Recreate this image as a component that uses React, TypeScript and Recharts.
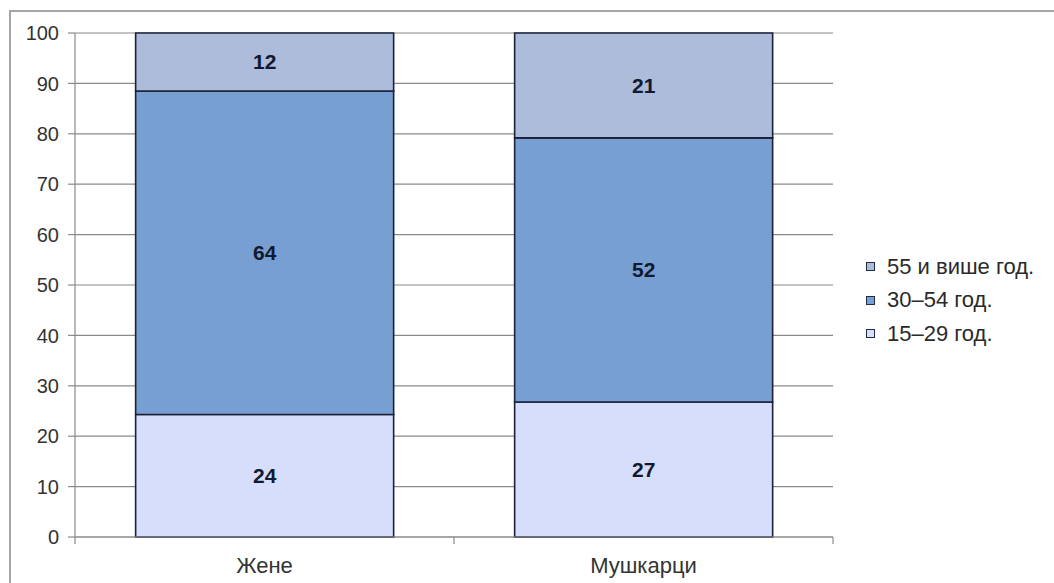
import React from "react";
import {
  BarChart,
  Bar,
  XAxis,
  YAxis,
  CartesianGrid,
  Legend,
  LabelList,
} from "recharts";

const categories = ["Жене", "Мушкарци"];
const young = [24.3, 26.8]; // 15–29 год.
const middle = [64.2, 52.4]; // 30–54 год.
const older = [11.5, 20.8]; // 55 и више год.
const yTicks = [0, 10, 20, 30, 40, 50, 60, 70, 80, 90, 100];
// category boundaries (tick marks) and centres (labels)
const xTicks = [0, 0.5, 1, 1.5, 2];

const SERIES = [
  { key: "older", name: "55 и више год.", color: "#aebcdc" },
  { key: "middle", name: "30–54 год.", color: "#789fd1" },
  { key: "young", name: "15–29 год.", color: "#d6defb" },
];

const data = categories.map((name, i) => ({
  name,
  idx: i + 0.5,
  young: young[i],
  middle: middle[i],
  older: older[i],
}));

const FONT = "'Liberation Sans', Arial, sans-serif";
const AXIS = "#8a8a8a";

function XTick(props: any) {
  const { x, y, payload } = props;
  const v = payload.value;
  if (Number.isInteger(v)) {
    return <line x1={x} x2={x} y1={y} y2={y + 7} stroke={AXIS} strokeWidth={1.2} />;
  }
  return (
    <text x={x} y={y + 20} dy="0.71em" textAnchor="middle" fill="#333" fontSize={22} fontFamily={FONT}>
      {categories[Math.floor(v)]}
    </text>
  );
}

function LegendBox() {
  return (
    <div style={{ fontFamily: FONT, fontSize: 22, color: "#2a2a2a" }}>
      {SERIES.map((s) => (
        <div key={s.key} style={{ display: "flex", alignItems: "center", height: 33.5 }}>
          <span
            style={{
              display: "inline-block",
              width: 7,
              height: 7,
              background: s.color,
              border: "1.5px solid #222a44",
              marginRight: 12,
            }}
          />
          {s.name}
        </div>
      ))}
    </div>
  );
}

export default function App() {
  return (
    <div style={{ position: "absolute", left: 0, top: 0, width: 1054, height: 583, overflow: "hidden", background: "#fff" }}>
      <div
        style={{
          position: "absolute",
          left: 9,
          top: 10,
          width: 1100,
          height: 620,
          border: "2px solid #a6a6a6",
        }}
      />
      <div style={{ position: "absolute", left: 0, top: 0 }}>
        <BarChart
          width={1054}
          height={583}
          data={data}
          margin={{ top: 33, right: 221, bottom: 0, left: 0 }}
          barCategoryGap="16%"
        >
          <CartesianGrid vertical={false} stroke={AXIS} strokeWidth={1.2} />
          <YAxis
            domain={[0, 100]}
            ticks={yTicks}
            interval={0}
            width={75}
            tickSize={7}
            tickMargin={9}
            axisLine={{ stroke: AXIS, strokeWidth: 1.2 }}
            tickLine={{ stroke: AXIS, strokeWidth: 1.2 }}
            tick={{ fill: "#333", fontSize: 20, fontFamily: FONT }}
          />
          <YAxis
            yAxisId="r"
            orientation="right"
            domain={[0, 100]}
            width={0}
            tick={false}
            tickLine={false}
            axisLine={{ stroke: AXIS, strokeWidth: 1.2 }}
          />
          <XAxis
            dataKey="idx"
            type="number"
            domain={[0, 2]}
            ticks={xTicks}
            interval={0}
            height={46}
            tickSize={0}
            tickMargin={0}
            tickLine={false}
            tick={<XTick />}
            axisLine={{ stroke: AXIS, strokeWidth: 1.2 }}
          />
          <Legend
            verticalAlign="middle"
            align="center"
            layout="horizontal"
            content={() => <LegendBox />}
            wrapperStyle={{ position: "absolute", left: 866, top: 250, width: 188 }}
          />
          {[...SERIES].reverse().map((s) => (
            <Bar
              key={s.key}
              dataKey={s.key}
              name={s.name}
              stackId="a"
              fill={s.color}
              stroke="#1a2038"
              strokeWidth={1.6}
              isAnimationActive={false}
            >
              <LabelList
                dataKey={s.key}
                position="center"
                formatter={(v: number) => Math.round(v)}
                style={{ fill: "#111a2e", fontSize: 21, fontWeight: "bold", fontFamily: FONT }}
              />
            </Bar>
          ))}
        </BarChart>
      </div>
    </div>
  );
}
